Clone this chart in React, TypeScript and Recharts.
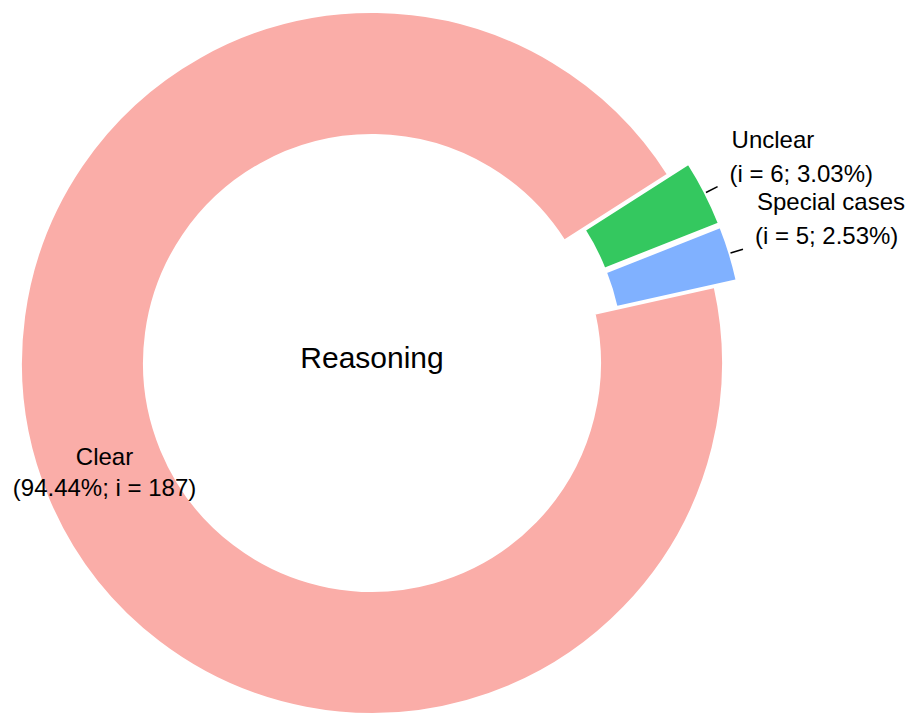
import React from 'react';
import { PieChart, Pie, Cell } from 'recharts';

const categories = ['Clear', 'Unclear', 'Special cases'];
const counts = [187, 6, 5];
const colors = ['#FAADA8', '#34C85F', '#80B1FF'];
const exploded = [false, true, true];
const centerTitle = 'Reasoning';

const data = categories.map((name, i) => ({ name, value: counts[i] }));

const W = 915;
const H = 715;
const CX = 372;
const CY = 363;
const OUTER = 351;
const INNER = 228;
const EXPLODE = 23;
const START = 372.5;
const END = 12.5;
const FONT = 'Liberation Sans, Arial, sans-serif';
const RADIAN = Math.PI / 180;

const total = counts.reduce((a, b) => a + b, 0);
const midAngles: number[] = [];
{
  let acc = START;
  counts.forEach((c) => {
    const span = (c / total) * (START - END);
    midAngles.push(acc - span / 2);
    acc -= span;
  });
}

const centerFor = (k: number) => {
  const d = exploded[k] ? EXPLODE : 0;
  return {
    x: CX + d * Math.cos(midAngles[k] * RADIAN),
    y: CY - d * Math.sin(midAngles[k] * RADIAN),
  };
};

const makeLabel = (k: number) => (props: any) => {
  if (props.index !== k) return null;
  const c = centerFor(k);
  const mid = props.midAngle ?? midAngles[k];
  const cos = Math.cos(mid * RADIAN);
  const sin = Math.sin(mid * RADIAN);
  const pct = ((props.value / total) * 100).toFixed(2);
  if (!exploded[k]) {
    const r = (INNER + OUTER) / 2;
    const x = c.x + r * cos;
    const y = c.y - r * sin;
    return (
      <g>
        <text x={x} y={y - 9} textAnchor="middle" fontSize={24} fontFamily={FONT} fill="#000">
          {props.name}
        </text>
        <text x={x} y={y + 22} textAnchor="middle" fontSize={24} fontFamily={FONT} fill="#000">
          {`(${pct}%; i = ${props.value})`}
        </text>
        <text x={CX} y={CY + 5} textAnchor="middle" fontSize={30} fontFamily={FONT} fill="#000">
          {centerTitle}
        </text>
      </g>
    );
  }
  const x1 = c.x + (OUTER + 1) * cos;
  const y1 = c.y - (OUTER + 1) * sin;
  const x2 = c.x + (OUTER + 14) * cos;
  const y2 = c.y - (OUTER + 14) * sin;
  const tx = x2 + 12;
  return (
    <g>
      <line x1={x1} y1={y1} x2={x2} y2={y2} stroke="#000" strokeWidth={1.5} />
      <text x={tx + 2} y={y2 - 39} textAnchor="start" fontSize={24} fontFamily={FONT} fill="#000">
        {props.name}
      </text>
      <text x={tx} y={y2 - 5} textAnchor="start" fontSize={24} fontFamily={FONT} fill="#000">
        {`(i = ${props.value}; ${pct}%)`}
      </text>
    </g>
  );
};

export default function App() {
  return (
    <div style={{ position: 'absolute', left: 0, top: 0, width: W, height: H, background: '#fff' }}>
      <PieChart width={W} height={H} margin={{ top: 0, right: 0, bottom: 0, left: 0 }}>
        {categories.map((_, k) => {
          const c = centerFor(k);
          return (
            <Pie
              key={k}
              data={data}
              dataKey="value"
              nameKey="name"
              cx={c.x}
              cy={c.y}
              innerRadius={INNER}
              outerRadius={OUTER}
              startAngle={START}
              endAngle={END}
              isAnimationActive={false}
              stroke="#fff"
              strokeWidth={2}
              labelLine={false}
              label={makeLabel(k)}
            >
              {data.map((_, i) => (
                <Cell
                  key={i}
                  fill={i === k ? colors[i] : 'none'}
                  stroke={i === k ? '#fff' : 'none'}
                />
              ))}
            </Pie>
          );
        })}
      </PieChart>
    </div>
  );
}
